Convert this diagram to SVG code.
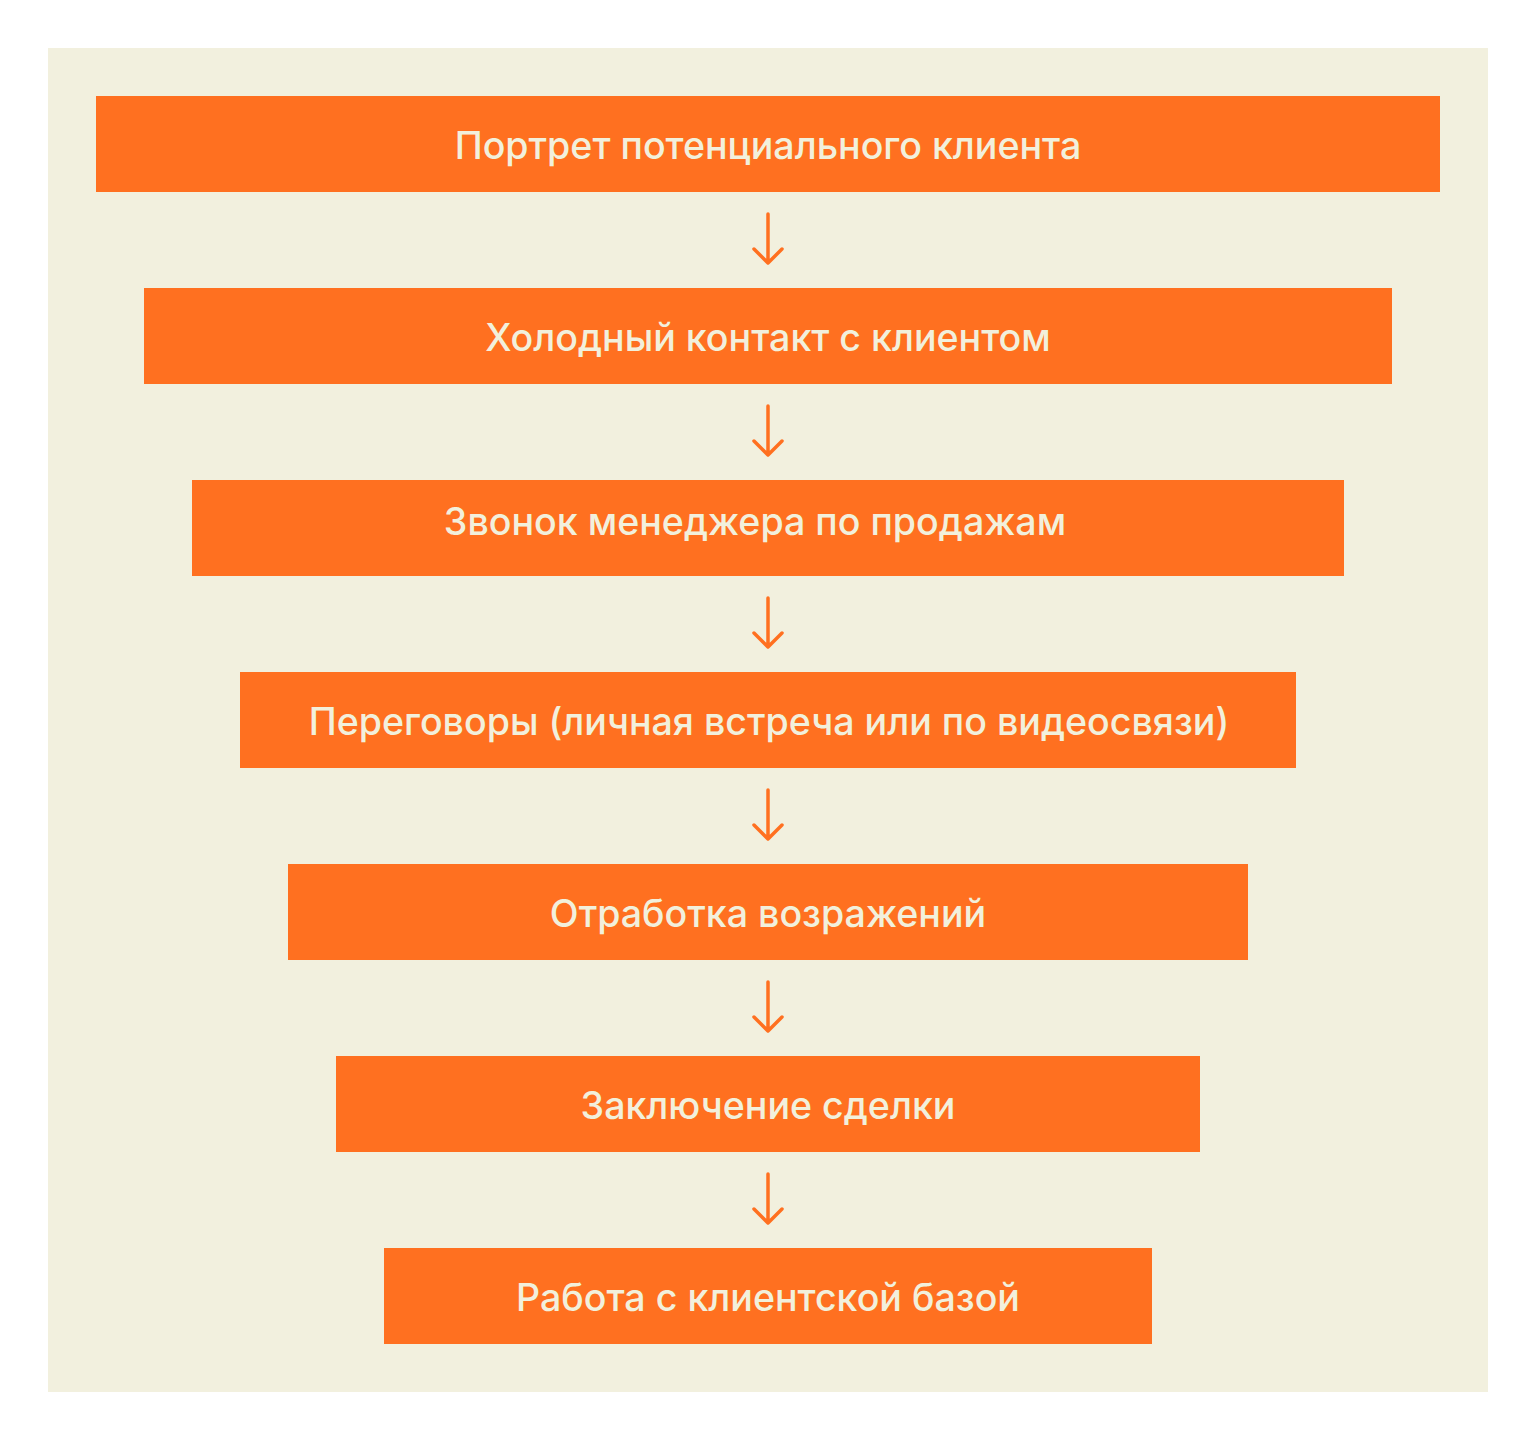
<svg xmlns="http://www.w3.org/2000/svg" width="1536" height="1440" viewBox="0 0 1536 1440">
<style>
.box{fill:#FF7020}
.lbl{font-family:Inter,"Noto Sans","DejaVu Sans",sans-serif;font-size:37.6px;font-weight:500;fill:#F2F0DC;text-anchor:middle;dominant-baseline:central}
.arr{fill:none;stroke:#FF7020;stroke-width:3.5;stroke-linecap:round;stroke-linejoin:round}
</style>
<rect width="1536" height="1440" fill="#ffffff"/>
<rect x="48" y="48" width="1440" height="1344" fill="#F2F0DE"/>
<g id="n1"><rect class="box" x="96" y="96" width="1344" height="96"/><text class="lbl" x="768" y="145">Портрет потенциального клиента</text></g>
<g id="n2"><rect class="box" x="144" y="288" width="1248" height="96"/><text class="lbl" x="768" y="337">Холодный контакт с клиентом</text></g>
<g id="n3"><rect class="box" x="192" y="480" width="1152" height="96"/><text class="lbl" x="755" y="521">Звонок менеджера по продажам</text></g>
<g id="n4"><rect class="box" x="240" y="672" width="1056" height="96"/><text class="lbl" x="769" y="721">Переговоры (личная встреча или по видеосвязи)</text></g>
<g id="n5"><rect class="box" x="288" y="864" width="960" height="96"/><text class="lbl" x="768" y="913">Отработка возражений</text></g>
<g id="n6"><rect class="box" x="336" y="1056" width="864" height="96"/><text class="lbl" x="768" y="1105">Заключение сделки</text></g>
<g id="n7"><rect class="box" x="384" y="1248" width="768" height="96"/><text class="lbl" x="768" y="1297">Работа с клиентской базой</text></g>
<g id="connectors">
<path class="arr" d="M768 214V262M754 249L768 263L782 249"/>
<path class="arr" d="M768 406V454M754 441L768 455L782 441"/>
<path class="arr" d="M768 598V646M754 633L768 647L782 633"/>
<path class="arr" d="M768 790V838M754 825L768 839L782 825"/>
<path class="arr" d="M768 982V1030M754 1017L768 1031L782 1017"/>
<path class="arr" d="M768 1174V1222M754 1209L768 1223L782 1209"/>
</g>
</svg>
